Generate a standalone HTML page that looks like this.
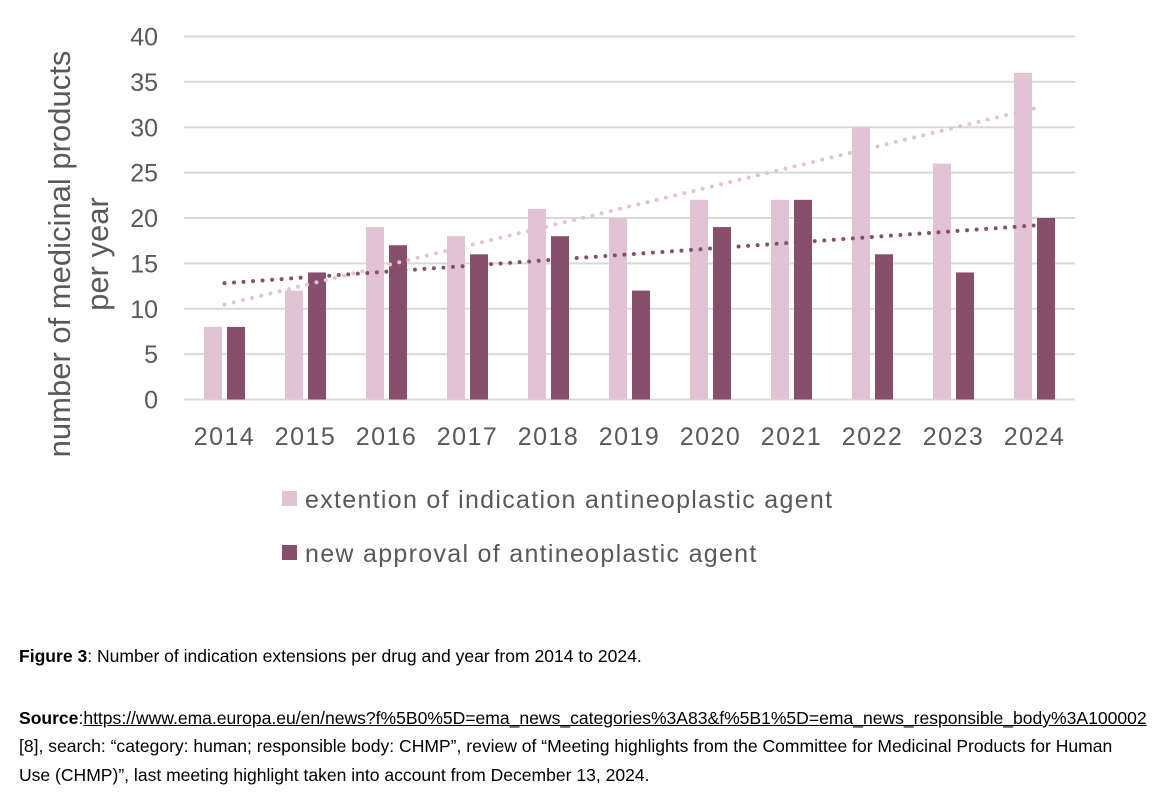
<!DOCTYPE html>
<html><head><meta charset="utf-8">
<style>
body{margin:0;background:#fff;width:1152px;height:792px;overflow:hidden;font-family:"Liberation Sans",Arial,sans-serif}
.cap{position:absolute;left:19px;font-size:17.55px;color:#000;white-space:nowrap}
</style></head><body>
<svg id="chart" width="1152" height="600" style="position:absolute;left:0;top:0" font-family="Liberation Sans, Arial, sans-serif"></svg>
<div class="cap" style="top:646px"><b>Figure 3</b>: Number of indication extensions per drug and year from 2014 to 2024.</div>
<div class="cap" style="top:708px"><b>Source</b>:<span style="text-decoration:underline">https://www.ema.europa.eu/en/news?f%5B0%5D=ema_news_categories%3A83&amp;f%5B1%5D=ema_news_responsible_body%3A100002</span></div>
<div class="cap" style="top:736px">[8], search: “category: human; responsible body: CHMP”, review of “Meeting highlights from the Committee for Medicinal Products for Human</div>
<div class="cap" style="top:765px">Use (CHMP)”, last meeting highlight taken into account from December 13, 2024.</div>
<script>
const categories=["2014","2015","2016","2017","2018","2019","2020","2021","2022","2023","2024"];
const extension=[8,12,19,18,21,20,22,22,30,26,36];
const approval=[8,14,17,16,18,12,19,22,16,14,20];
const yTicks=[0,5,10,15,20,25,30,35,40];
const NS="http://www.w3.org/2000/svg";
const svg=document.getElementById('chart');
const x0=184,x1=1075,y0=399.5,y1=36.5,yMax=40;
const band=(x1-x0)/categories.length;
const y=v=>y0-(v/yMax)*(y0-y1);
const cx=i=>x0+band*(i+0.5);
function mk(t,a){const e=document.createElementNS(NS,t);for(const k in a)e.setAttribute(k,a[k]);svg.appendChild(e);return e;}
yTicks.forEach(t=>{
 const l=mk('line',{x1:x0,x2:x1,y1:y(t),y2:y(t),stroke:'#d9d9d9','stroke-width':2});
 
 
 const tx=mk('text',{x:158,y:y(t)+9,'text-anchor':'end','font-size':25,fill:'#595959'});
 tx.textContent=t;
 
 
});
categories.forEach((c,i)=>{
 const a=mk('rect',{x:cx(i)-20.5,y:y(extension[i]),width:18,height:y0-y(extension[i]),fill:'#e1c3d3'});
 
 
 const b=mk('rect',{x:cx(i)+2.5,y:y(approval[i]),width:18,height:y0-y(approval[i]),fill:'#874f6b'});
 
 
 const t=mk('text',{x:cx(i),y:445,'text-anchor':'middle','font-size':25,fill:'#595959','letter-spacing':1.5});
 t.textContent=c;
 
 
});
function trend(vals,color,name){
 const n=vals.length,mx=(n-1)/2,my=vals.reduce((s,v)=>s+v,0)/n;
 let sxy=0,sxx=0;vals.forEach((v,i)=>{sxy+=(i-mx)*(v-my);sxx+=(i-mx)*(i-mx);});
 const m=sxy/sxx,b=my-m*mx;
 const X1=cx(0),Y1=y(b),X2=cx(n-1),Y2=y(b+m*(n-1));
 const len=Math.hypot(X2-X1,Y2-Y1),cnt=Math.round(len/9.5);
 const l=mk('line',{x1:X1,y1:Y1,x2:X2,y2:Y2,stroke:color,'stroke-width':4,'stroke-linecap':'round','stroke-dasharray':'0 '+(len/cnt*0.999).toFixed(3)});
 
 
}
trend(extension,'#e1c3d3','trendline-extension');
trend(approval,'#874f6b','trendline-approval');
const yt=mk('text',{transform:'translate(70,254) rotate(-90)','text-anchor':'middle','font-size':31,fill:'#595959'});
yt.innerHTML='<tspan x="0" dy="0">number of medicinal products</tspan><tspan x="0" dy="38">per year</tspan>';


[['extention of indication antineoplastic agent','#e1c3d3',499],['new approval of antineoplastic agent','#874f6b',553]].forEach(([t,c,yy],k)=>{
 const r=mk('rect',{x:282,y:yy-8,width:15,height:15,fill:c});
 
 
 const tx=mk('text',{x:305,y:yy+9,'font-size':25,fill:'#595959','letter-spacing':1.3});
 tx.textContent=t;
 
 
});
</script>
</body></html>
